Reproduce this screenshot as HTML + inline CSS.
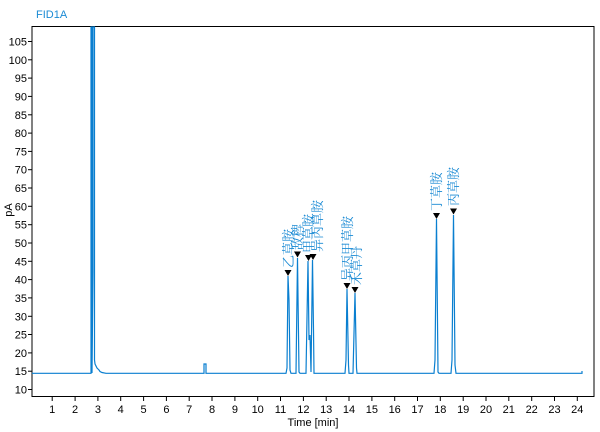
<!DOCTYPE html>
<html><head><meta charset="utf-8"><style>
body{margin:0;background:#fff;}
svg{display:block;font-family:"Liberation Sans",Arial,sans-serif;}
.v{font-family:"Liberation Serif","Noto Serif CJK SC",serif;font-size:13px;fill:#1a8ad4;}
</style></head><body>
<svg width="600" height="432" viewBox="0 0 600 432" xmlns="http://www.w3.org/2000/svg">
<text x="36" y="18" font-size="11" fill="#1a8ad4">FID1A</text>
<rect x="32" y="26.5" width="562" height="370" fill="none" stroke="#000" stroke-width="1"/>
<g stroke="#000">
<line x1="28" x2="32" y1="389.5" y2="389.5"/><line x1="28" x2="32" y1="371.2" y2="371.2"/><line x1="28" x2="32" y1="352.9" y2="352.9"/><line x1="28" x2="32" y1="334.5" y2="334.5"/><line x1="28" x2="32" y1="316.3" y2="316.3"/><line x1="28" x2="32" y1="297.9" y2="297.9"/><line x1="28" x2="32" y1="279.6" y2="279.6"/><line x1="28" x2="32" y1="261.3" y2="261.3"/><line x1="28" x2="32" y1="243" y2="243"/><line x1="28" x2="32" y1="224.7" y2="224.7"/><line x1="28" x2="32" y1="206.3" y2="206.3"/><line x1="28" x2="32" y1="188" y2="188"/><line x1="28" x2="32" y1="169.7" y2="169.7"/><line x1="28" x2="32" y1="151.4" y2="151.4"/><line x1="28" x2="32" y1="133.1" y2="133.1"/><line x1="28" x2="32" y1="114.8" y2="114.8"/><line x1="28" x2="32" y1="96.4" y2="96.4"/><line x1="28" x2="32" y1="78.1" y2="78.1"/><line x1="28" x2="32" y1="59.8" y2="59.8"/><line x1="28" x2="32" y1="41.5" y2="41.5"/>
</g>
<g font-size="11" fill="#000" text-anchor="end">
<text x="27" y="393.5">10</text><text x="27" y="375.2">15</text><text x="27" y="356.9">20</text><text x="27" y="338.5">25</text><text x="27" y="320.3">30</text><text x="27" y="301.9">35</text><text x="27" y="283.6">40</text><text x="27" y="265.3">45</text><text x="27" y="247">50</text><text x="27" y="228.7">55</text><text x="27" y="210.3">60</text><text x="27" y="192">65</text><text x="27" y="173.7">70</text><text x="27" y="155.4">75</text><text x="27" y="137.1">80</text><text x="27" y="118.8">85</text><text x="27" y="100.4">90</text><text x="27" y="82.1">95</text><text x="27" y="63.8">100</text><text x="27" y="45.5">105</text>
</g>
<g stroke="#000">
<line x1="52.2" x2="52.2" y1="397" y2="401"/><line x1="75.1" x2="75.1" y1="397" y2="401"/><line x1="97.9" x2="97.9" y1="397" y2="401"/><line x1="120.7" x2="120.7" y1="397" y2="401"/><line x1="143.6" x2="143.6" y1="397" y2="401"/><line x1="166.4" x2="166.4" y1="397" y2="401"/><line x1="189.2" x2="189.2" y1="397" y2="401"/><line x1="212" x2="212" y1="397" y2="401"/><line x1="234.9" x2="234.9" y1="397" y2="401"/><line x1="257.7" x2="257.7" y1="397" y2="401"/><line x1="280.5" x2="280.5" y1="397" y2="401"/><line x1="303.4" x2="303.4" y1="397" y2="401"/><line x1="326.2" x2="326.2" y1="397" y2="401"/><line x1="349" x2="349" y1="397" y2="401"/><line x1="371.9" x2="371.9" y1="397" y2="401"/><line x1="394.7" x2="394.7" y1="397" y2="401"/><line x1="417.5" x2="417.5" y1="397" y2="401"/><line x1="440.3" x2="440.3" y1="397" y2="401"/><line x1="463.2" x2="463.2" y1="397" y2="401"/><line x1="486" x2="486" y1="397" y2="401"/><line x1="508.8" x2="508.8" y1="397" y2="401"/><line x1="531.7" x2="531.7" y1="397" y2="401"/><line x1="554.5" x2="554.5" y1="397" y2="401"/><line x1="577.3" x2="577.3" y1="397" y2="401"/>
</g>
<g font-size="11" fill="#000" text-anchor="middle">
<text x="52.2" y="413">1</text><text x="75.1" y="413">2</text><text x="97.9" y="413">3</text><text x="120.7" y="413">4</text><text x="143.6" y="413">5</text><text x="166.4" y="413">6</text><text x="189.2" y="413">7</text><text x="212" y="413">8</text><text x="234.9" y="413">9</text><text x="257.7" y="413">10</text><text x="280.5" y="413">11</text><text x="303.4" y="413">12</text><text x="326.2" y="413">13</text><text x="349" y="413">14</text><text x="371.9" y="413">15</text><text x="394.7" y="413">16</text><text x="417.5" y="413">17</text><text x="440.3" y="413">18</text><text x="463.2" y="413">19</text><text x="486" y="413">20</text><text x="508.8" y="413">21</text><text x="531.7" y="413">22</text><text x="554.5" y="413">23</text><text x="577.3" y="413">24</text>
</g>
<text x="12" y="210" font-size="11" transform="rotate(-90 12 210)" text-anchor="middle">pA</text>
<text x="313" y="426" font-size="11" text-anchor="middle">Time [min]</text>
<g stroke="#0a7fd0" stroke-width="1.2" fill="none">
<polyline points="32,373.3 91,373.3 91,27 92,27 92,373 93,272 93,27 94.5,27 94.5,360 95,364 96,366 97,368 98,369 99,370 100,371.5 102,372.5 106,373.3 204,373.3 204,364 206,364 206,373.3 286,373.3 287,368 288,276 289,300 290,370 291,373.3 296,373.3 297.5,258 299,372 300,373.3 306,373.3 308,261 309,340 310,335 311,372 312.5,260 313.5,330 314,373.3 345,373.3 346,360 347,289 348.5,365 349,373.3 353,373.3 355,293 356.5,368 357,373.3 434,373.3 435,360 436.5,219 438,372 439,373.3 451,373.3 452,360 453.5,215 455,365 456,373.3 582,373.3 582,371"/>
</g>
<g fill="#000">
<path d="M284.5,270 h7 l-3.5,6 z"/>
<path d="M294,251.5 h7 l-3.5,6 z"/>
<path d="M305,255 h7 l-3.5,6 z"/>
<path d="M309.5,254 h7 l-3.5,6 z"/>
<path d="M343.5,283 h7 l-3.5,6 z"/>
<path d="M351.5,287 h7 l-3.5,6 z"/>
<path d="M433,213 h7 l-3.5,6 z"/>
<path d="M450,208.5 h7 l-3.5,6 z"/>
</g>
<g class="v">
<text transform="translate(293,268) rotate(-90)">乙草胺</text>
<text transform="translate(302,250) rotate(-90)">敌稗</text>
<text transform="translate(313,253) rotate(-90)">甲草胺</text>
<text transform="translate(322,252) rotate(-90)">异丙草胺</text>
<text transform="translate(352,281) rotate(-90)">异丙甲草胺</text>
<text transform="translate(361,285) rotate(-90)">禾草丹</text>
<text transform="translate(441,211) rotate(-90)">丁草胺</text>
<text transform="translate(458,206) rotate(-90)">丙草胺</text>
</g>
</svg>
</body></html>
